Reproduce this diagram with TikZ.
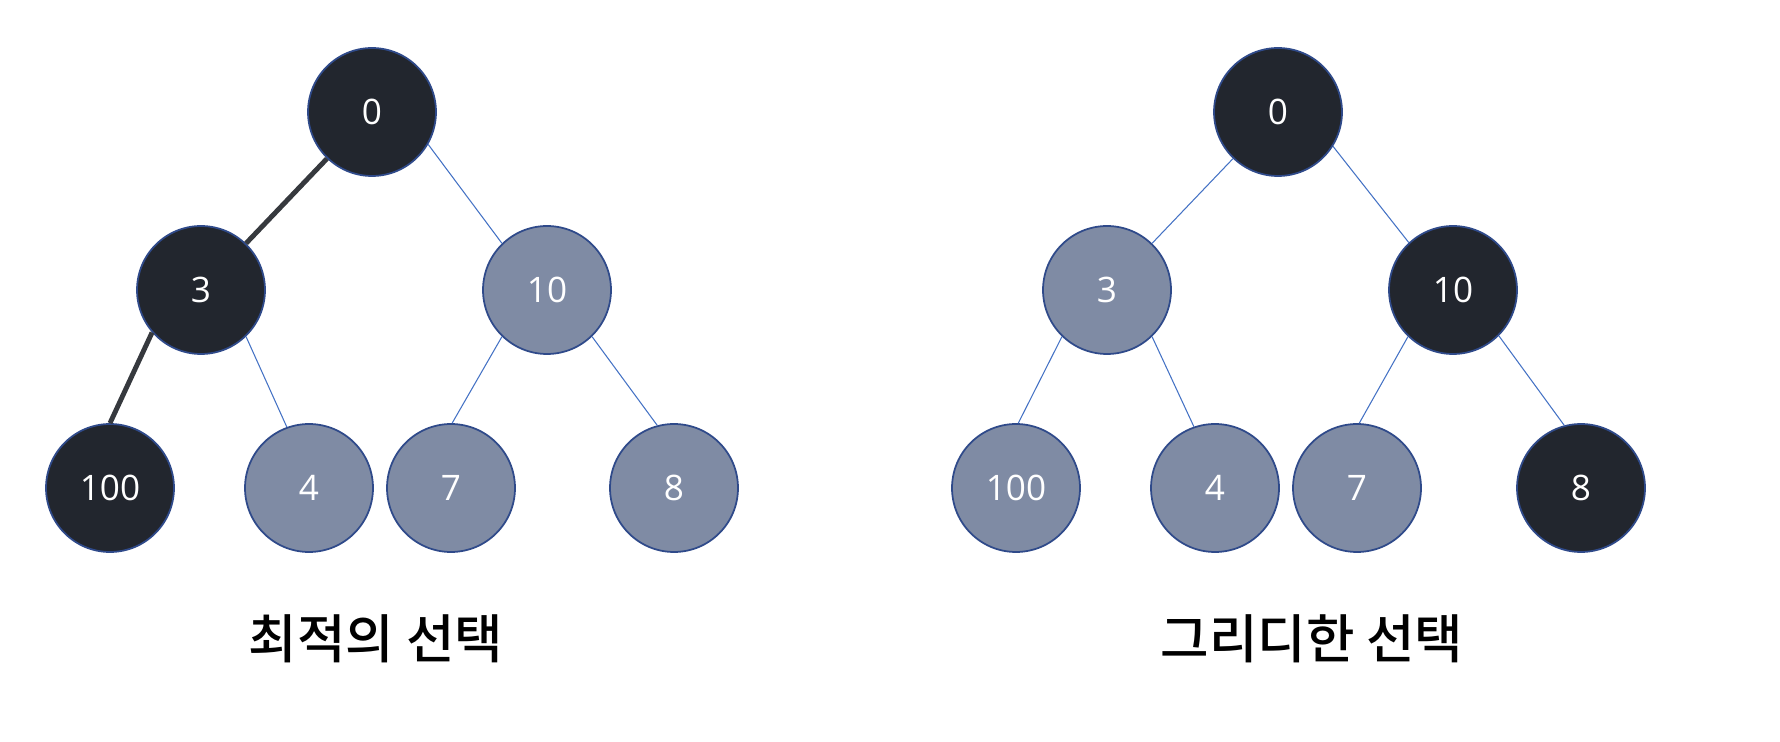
\documentclass[tikz,border=0pt]{standalone}
\usepackage{fontspec}
\setmainfont{Open Sans}
\newfontfamily\krfont{Noto Sans CJK KR}[BoldFont={Noto Sans CJK KR Medium}]
\definecolor{darknode}{HTML}{22262E}
\definecolor{greynode}{HTML}{7F8BA4}
\definecolor{rimblue}{HTML}{2F4A8A}
\definecolor{edgeblue}{HTML}{4472C4}
\definecolor{pathgrey}{HTML}{36393E}
\begin{document}
\begin{tikzpicture}[x=0.02cm, y=0.02cm,
  key/.style={circle, draw=rimblue, line width=1pt, minimum size=2.56cm, inner sep=0pt, text=white, font=\fontsize{20}{24}\selectfont},
  dark/.style={key, fill=darknode},
  grey/.style={key, fill=greynode},
  edge/.style={draw=edgeblue, line width=0.6pt},
  best/.style={draw=pathgrey, line width=2.8pt},
  title/.style={font=\krfont\bfseries\fontsize{30}{35}\selectfont}]
\useasboundingbox (0,0) rectangle (1780,-742);
% ---------------- left: the best choice ----------------
\node[dark] (l0) at (372,-112) {0};
\node[dark] (l3) at (201,-290) {3};
\node[grey] (l10) at (547,-290) {10};
\node[dark] (l100) at (110,-488) {100};
\node[grey] (l4) at (309,-488) {4};
\node[grey] (l7) at (451,-488) {7};
\node[grey] (l8) at (674,-488) {8};
\draw[best] (l0.-134) -- (l3.46); \draw[best] (l3.-139) -- (l100.90);
\draw[edge] (l0.-30) -- (l10.134); \draw[edge] (l3.-46) -- (l4.110);
\draw[edge] (l10.-134) -- (l7.89); \draw[edge] (l10.-46) -- (l8.105);
\node[title] (ltitle) at (376,-639) {최적의 선택};
% ---------------- right: the greedy choice ----------------
\node[dark] (r0) at (1278,-112) {0};
\node[grey] (r3) at (1107,-290) {3};
\node[dark] (r10) at (1453,-290) {10};
\node[grey] (r100) at (1016,-488) {100};
\node[grey] (r4) at (1215,-488) {4};
\node[grey] (r7) at (1357,-488) {7};
\node[dark] (r8) at (1581,-488) {8};
\draw[edge] (r0.-134) -- (r3.46); \draw[edge] (r0.-32) -- (r10.133);
\draw[edge] (r3.-134) -- (r100.88); \draw[edge] (r3.-46) -- (r4.109);
\draw[edge] (r10.-134) -- (r7.88); \draw[edge] (r10.-45) -- (r8.105);
\node[title] (rtitle) at (1312,-639) {그리디한 선택};
\end{tikzpicture}
\end{document}
